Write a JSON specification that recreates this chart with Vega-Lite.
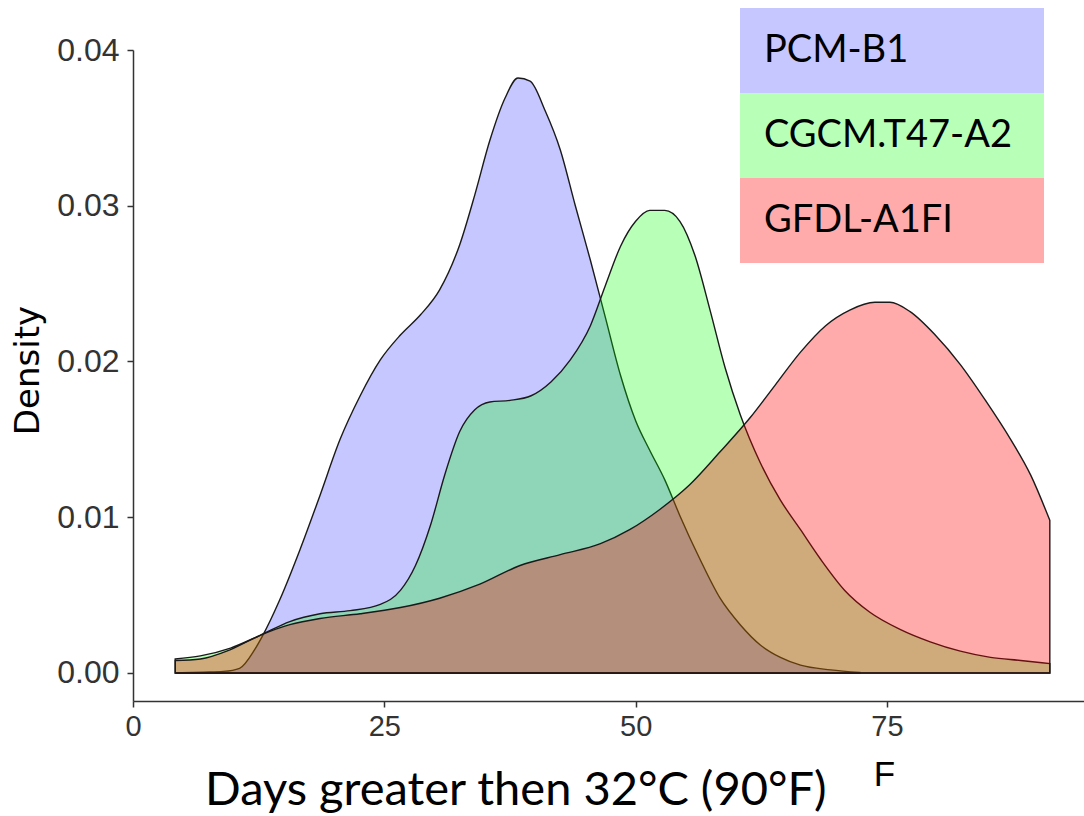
{
  "$schema": "https://vega.github.io/schema/vega-lite/v6.json",
  "width": 951,
  "height": 651,
  "autosize": "none",
  "padding": {"left": 133, "top": 50, "right": 0, "bottom": 115},
  "background": "white",
  "config": {"view": {"stroke": null}, "axis": {"grid": false}},
  "title": {"text": "Days greater then 32°C (90°F)", "orient": "bottom", "anchor": "start", "frame": "group", "font": "Lato", "fontSize": 47, "fontWeight": "normal", "color": "black", "dx": 72, "offset": 13, "baseline": "alphabetic"},
  "data": {"values": [
    {"model": "PCM-B1", "days": 4.2, "density": 0.0},
    {"model": "PCM-B1", "days": 7, "density": 0.00005},
    {"model": "PCM-B1", "days": 9, "density": 0.0001},
    {"model": "PCM-B1", "days": 10.6, "density": 0.0003},
    {"model": "PCM-B1", "days": 12.1, "density": 0.0015},
    {"model": "PCM-B1", "days": 12.9, "density": 0.0024},
    {"model": "PCM-B1", "days": 14.6, "density": 0.0047},
    {"model": "PCM-B1", "days": 16.6, "density": 0.0079},
    {"model": "PCM-B1", "days": 18.6, "density": 0.0114},
    {"model": "PCM-B1", "days": 20.6, "density": 0.015},
    {"model": "PCM-B1", "days": 22.6, "density": 0.0178},
    {"model": "PCM-B1", "days": 24.6, "density": 0.0201},
    {"model": "PCM-B1", "days": 26.6, "density": 0.0217},
    {"model": "PCM-B1", "days": 28.6, "density": 0.023},
    {"model": "PCM-B1", "days": 30.5, "density": 0.0246},
    {"model": "PCM-B1", "days": 32.5, "density": 0.0275},
    {"model": "PCM-B1", "days": 34, "density": 0.0307},
    {"model": "PCM-B1", "days": 35.5, "density": 0.0342},
    {"model": "PCM-B1", "days": 37, "density": 0.0369},
    {"model": "PCM-B1", "days": 38.3, "density": 0.0382},
    {"model": "PCM-B1", "days": 39.5, "density": 0.038},
    {"model": "PCM-B1", "days": 41, "density": 0.0361},
    {"model": "PCM-B1", "days": 42.5, "density": 0.0336},
    {"model": "PCM-B1", "days": 44, "density": 0.03},
    {"model": "PCM-B1", "days": 45.5, "density": 0.0265},
    {"model": "PCM-B1", "days": 47, "density": 0.0228},
    {"model": "PCM-B1", "days": 48.5, "density": 0.0191},
    {"model": "PCM-B1", "days": 50, "density": 0.0162},
    {"model": "PCM-B1", "days": 51.4, "density": 0.0143},
    {"model": "PCM-B1", "days": 52.9, "density": 0.0124},
    {"model": "PCM-B1", "days": 54.4, "density": 0.0101},
    {"model": "PCM-B1", "days": 56.4, "density": 0.0073},
    {"model": "PCM-B1", "days": 58.4, "density": 0.0048},
    {"model": "PCM-B1", "days": 60.4, "density": 0.0031},
    {"model": "PCM-B1", "days": 62.4, "density": 0.0018},
    {"model": "PCM-B1", "days": 64.4, "density": 0.001},
    {"model": "PCM-B1", "days": 66.4, "density": 0.0005},
    {"model": "PCM-B1", "days": 69.4, "density": 0.0002},
    {"model": "PCM-B1", "days": 72.3, "density": 0.00003},
    {"model": "CGCM.T47-A2", "days": 4.2, "density": 0.0009},
    {"model": "CGCM.T47-A2", "days": 6.7, "density": 0.0011},
    {"model": "CGCM.T47-A2", "days": 9.7, "density": 0.0016},
    {"model": "CGCM.T47-A2", "days": 12.6, "density": 0.0024},
    {"model": "CGCM.T47-A2", "days": 15.6, "density": 0.0033},
    {"model": "CGCM.T47-A2", "days": 18.6, "density": 0.0038},
    {"model": "CGCM.T47-A2", "days": 21.6, "density": 0.004},
    {"model": "CGCM.T47-A2", "days": 24.6, "density": 0.0044},
    {"model": "CGCM.T47-A2", "days": 26.6, "density": 0.0053},
    {"model": "CGCM.T47-A2", "days": 28.1, "density": 0.0069},
    {"model": "CGCM.T47-A2", "days": 29.6, "density": 0.0095},
    {"model": "CGCM.T47-A2", "days": 31, "density": 0.0127},
    {"model": "CGCM.T47-A2", "days": 32.5, "density": 0.0155},
    {"model": "CGCM.T47-A2", "days": 34, "density": 0.0169},
    {"model": "CGCM.T47-A2", "days": 35.5, "density": 0.0174},
    {"model": "CGCM.T47-A2", "days": 37.5, "density": 0.0175},
    {"model": "CGCM.T47-A2", "days": 39.6, "density": 0.0178},
    {"model": "CGCM.T47-A2", "days": 41.6, "density": 0.0187},
    {"model": "CGCM.T47-A2", "days": 43.5, "density": 0.0201},
    {"model": "CGCM.T47-A2", "days": 45.5, "density": 0.0223},
    {"model": "CGCM.T47-A2", "days": 47, "density": 0.0249},
    {"model": "CGCM.T47-A2", "days": 48.5, "density": 0.0274},
    {"model": "CGCM.T47-A2", "days": 50, "density": 0.029},
    {"model": "CGCM.T47-A2", "days": 51.4, "density": 0.0297},
    {"model": "CGCM.T47-A2", "days": 52.9, "density": 0.0297},
    {"model": "CGCM.T47-A2", "days": 54.4, "density": 0.029},
    {"model": "CGCM.T47-A2", "days": 55.9, "density": 0.0268},
    {"model": "CGCM.T47-A2", "days": 57.4, "density": 0.0233},
    {"model": "CGCM.T47-A2", "days": 58.9, "density": 0.0196},
    {"model": "CGCM.T47-A2", "days": 60.4, "density": 0.0166},
    {"model": "CGCM.T47-A2", "days": 62.4, "density": 0.0135},
    {"model": "CGCM.T47-A2", "days": 64.4, "density": 0.0111},
    {"model": "CGCM.T47-A2", "days": 66.4, "density": 0.0092},
    {"model": "CGCM.T47-A2", "days": 68.4, "density": 0.0073},
    {"model": "CGCM.T47-A2", "days": 70.8, "density": 0.0053},
    {"model": "CGCM.T47-A2", "days": 73.3, "density": 0.0039},
    {"model": "CGCM.T47-A2", "days": 76.3, "density": 0.0028},
    {"model": "CGCM.T47-A2", "days": 79.3, "density": 0.002},
    {"model": "CGCM.T47-A2", "days": 82.3, "density": 0.0014},
    {"model": "CGCM.T47-A2", "days": 85.3, "density": 0.001},
    {"model": "CGCM.T47-A2", "days": 88.3, "density": 0.0008},
    {"model": "CGCM.T47-A2", "days": 91.2, "density": 0.0006},
    {"model": "GFDL-A1FI", "days": 4.2, "density": 0.0008},
    {"model": "GFDL-A1FI", "days": 6.7, "density": 0.0009},
    {"model": "GFDL-A1FI", "days": 9.7, "density": 0.0015},
    {"model": "GFDL-A1FI", "days": 12.6, "density": 0.0024},
    {"model": "GFDL-A1FI", "days": 15.6, "density": 0.0031},
    {"model": "GFDL-A1FI", "days": 18.6, "density": 0.0035},
    {"model": "GFDL-A1FI", "days": 22.6, "density": 0.0038},
    {"model": "GFDL-A1FI", "days": 26.6, "density": 0.0042},
    {"model": "GFDL-A1FI", "days": 30.5, "density": 0.0048},
    {"model": "GFDL-A1FI", "days": 34.5, "density": 0.0057},
    {"model": "GFDL-A1FI", "days": 38.5, "density": 0.0069},
    {"model": "GFDL-A1FI", "days": 42.5, "density": 0.0076},
    {"model": "GFDL-A1FI", "days": 46.5, "density": 0.0083},
    {"model": "GFDL-A1FI", "days": 49.4, "density": 0.0092},
    {"model": "GFDL-A1FI", "days": 52.4, "density": 0.0105},
    {"model": "GFDL-A1FI", "days": 55.4, "density": 0.0121},
    {"model": "GFDL-A1FI", "days": 58.4, "density": 0.0142},
    {"model": "GFDL-A1FI", "days": 61.4, "density": 0.0164},
    {"model": "GFDL-A1FI", "days": 63.9, "density": 0.0185},
    {"model": "GFDL-A1FI", "days": 66.4, "density": 0.0206},
    {"model": "GFDL-A1FI", "days": 68.9, "density": 0.0223},
    {"model": "GFDL-A1FI", "days": 71.3, "density": 0.0233},
    {"model": "GFDL-A1FI", "days": 73.8, "density": 0.0238},
    {"model": "GFDL-A1FI", "days": 75.3, "density": 0.0238},
    {"model": "GFDL-A1FI", "days": 77.3, "density": 0.0232},
    {"model": "GFDL-A1FI", "days": 79.8, "density": 0.0217},
    {"model": "GFDL-A1FI", "days": 82.3, "density": 0.0198},
    {"model": "GFDL-A1FI", "days": 84.8, "density": 0.0175},
    {"model": "GFDL-A1FI", "days": 87.3, "density": 0.015},
    {"model": "GFDL-A1FI", "days": 89.3, "density": 0.0127},
    {"model": "GFDL-A1FI", "days": 91.2, "density": 0.0098}
  ]},
  "mark": {"type": "area", "interpolate": "monotone", "stroke": "#1a1a1a", "strokeWidth": 1.4},
  "encoding": {
    "x": {"field": "days", "type": "quantitative",
      "scale": {"domain": [0, 94.6], "nice": false, "zero": false},
      "axis": {"values": [0, 25, 50, 75], "title": "F", "titleFont": "Liberation Sans", "titleFontSize": 35, "titleFontWeight": "normal", "titleColor": "black", "titleX": 751, "titleY": 84, "titleAlign": "center", "titleBaseline": "alphabetic",
        "labelFont": "Liberation Sans", "labelFontSize": 29, "labelColor": "#333333", "labelPadding": 5, "tickSize": 6, "tickColor": "#333333", "tickWidth": 1.5, "domainColor": "#333333", "domainWidth": 1.5, "labelFlush": false}},
    "y": {"field": "density", "type": "quantitative",
      "scale": {"domain": [-0.0018, 0.04], "nice": false, "zero": false},
      "axis": {"values": [0, 0.01, 0.02, 0.03, 0.04], "format": ".2f", "title": "Density", "titleFont": "DejaVu Sans", "titleFontSize": 34, "titleFontWeight": "normal", "titleColor": "black", "titleX": -95, "titleY": 320, "titleAngle": 270, "titleAlign": "center", "titleBaseline": "alphabetic",
        "labelFont": "Liberation Sans", "labelFontSize": 32, "labelColor": "#333333", "labelPadding": 8, "tickSize": 6, "tickColor": "#333333", "tickWidth": 1.5, "domainColor": "#333333", "domainWidth": 1.5, "labelFlush": false}},
    "y2": {"datum": 0},
    "fill": {"field": "model", "type": "nominal",
      "scale": {"domain": ["PCM-B1", "CGCM.T47-A2", "GFDL-A1FI"], "range": ["rgba(0,0,255,0.22)", "rgba(0,255,0,0.28)", "rgba(255,0,0,0.33)"]},
      "legend": {"orient": "none", "legendX": 607, "legendY": -42, "title": null, "symbolType": "M-1,-1H6.153V1H-1Z", "symbolSize": 7225, "symbolStrokeWidth": 0, "symbolOpacity": 1, "fillColor": "white", "labelFont": "Lato", "labelFontSize": 38, "labelColor": "black", "labelOffset": -61, "labelLimit": 400, "rowPadding": 0, "padding": 0}}
  }
}
